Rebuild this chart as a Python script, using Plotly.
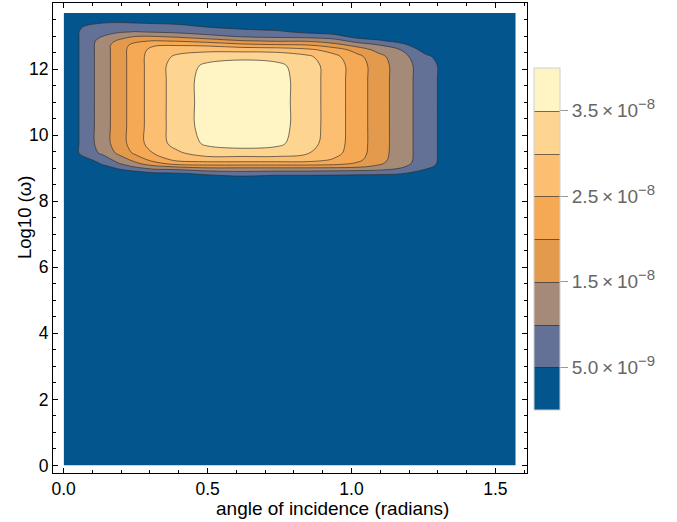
import plotly.graph_objects as go

# ---- data (z in units of 1e-9) ----
angle = [0, 0.080, 0.134, 0.191, 0.247, 0.314, 0.399, 0.50, 0.62, 0.74,
         0.847, 0.940, 1.019, 1.094, 1.170, 1.258, 1.38, 1.5708]
log_omega = [0, 8.0, 8.6, 8.84, 8.965, 9.055, 9.135, 9.255, 9.455, 9.75, 10.3,
             11.0, 11.7, 12.1, 12.38, 12.58, 12.72, 12.85, 12.98, 13.12, 13.28,
             13.45, 13.7]

# one list per angle column, values along log_omega
col00 = [0, 0, 0, 0, 0, 0, 0, 0, 0, 0, 0, 0, 0, 0, 0, 0, 0, 0, 0, 0, 0, 0, 0]
col01 = [0, 0, 0, 0, 0, 0, 1, 4, 7.5, 7.5, 7.5, 7.5, 7.5, 7.5, 7.5, 7.5, 7.5, 7.5, 7.5, 7.5, 6, 2, 0]
col02 = [0, 0, 0, 0, 2, 4, 5.5, 7, 10.8, 12.5, 12.5, 12.5, 12.5, 12.5, 12.5, 12.5, 12.5, 12, 10.1, 8, 6.5, 4.2, 0]
col03 = [0, 0, 0, 2, 4.8, 6.5, 9.6, 12, 16, 17.5, 17.5, 17.5, 17.5, 17.5, 17.5, 17.5, 17.5, 15.8, 13, 9.6, 7.5, 4.2, 0]
col04 = [0, 0, 0, 3, 6.5, 11, 13.5, 16.5, 20.8, 22.5, 22.5, 22.5, 22.5, 22.5, 22.5, 22.5, 21.5, 19, 15.2, 10.3, 7, 4, 0]
col05 = [0, 0, 0, 4, 9.8, 14, 18, 22, 25.2, 27.5, 27.5, 27.5, 27.5, 27.5, 27.5, 26.5, 24.6, 20.3, 15.4, 9.8, 7, 3.5, 0]
col06 = [0, 0, 0, 4.6, 10.5, 16.3, 22, 26.5, 29.3, 32, 32.5, 32.5, 32.5, 32.5, 31, 28.2, 24.8, 19.6, 14.2, 9, 6.5, 3, 0]
col07 = [0, 0, 0, 6, 12.5, 17.5, 22.5, 27.5, 32.5, 35.9, 37, 37, 37, 36, 33, 28.7, 24.3, 18, 12, 7.5, 4.8, 2, 0]
col08 = [0, 0, 0, 7.5, 12.5, 17.5, 22.5, 27.5, 32.5, 37.5, 39.5, 40, 39.5, 37.5, 33.5, 28.5, 22, 15.5, 9.8, 6.8, 3.5, 0, 0]
col09 = [0, 0, 0, 6.5, 12.5, 17.5, 22.5, 27.5, 32.5, 36.2, 37, 37, 37, 36.3, 33, 28.3, 21, 14.5, 9, 6, 2.5, 0, 0]
col10 = [0, 0, 0, 6.5, 12.5, 17.5, 22.5, 27.3, 30.3, 32, 32.5, 32.5, 32.5, 32.3, 31, 26.2, 20.5, 14.5, 8.5, 4, 1, 0, 0]
col11 = [0, 0, 0, 6.3, 12.2, 17.3, 21.5, 24.5, 26.5, 27.3, 27.5, 27.5, 27.5, 27.5, 26.3, 23, 17, 12.5, 7, 3, 0, 0, 0]
col12 = [0, 0, 0, 6, 11.8, 16.5, 19.3, 21.3, 22.3, 22.5, 22.5, 22.5, 22.5, 22.5, 21.5, 18, 13.5, 8, 3.5, 0, 0, 0, 0]
col13 = [0, 0, 0, 5.8, 11, 14, 15.8, 16.8, 17.3, 17.5, 17.5, 17.5, 17.5, 17.5, 16.5, 13.5, 10.3, 6, 2, 0, 0, 0, 0]
col14 = [0, 0, 0, 5.4, 9.3, 11, 12, 12.4, 12.5, 12.5, 12.5, 12.5, 12.5, 12.5, 12, 10.1, 7.5, 3, 0, 0, 0, 0, 0]
col15 = [0, 0, 0, 2, 4.9, 6.5, 7.2, 7.5, 7.5, 7.5, 7.5, 7.5, 7.5, 7.5, 6, 3, 0, 0, 0, 0, 0, 0, 0]
col16 = [0, 0, 0, 0, 0, 0, 0, 0, 0, 0, 0, 0, 0, 0, 0, 0, 0, 0, 0, 0, 0, 0, 0]
col17 = [0, 0, 0, 0, 0, 0, 0, 0, 0, 0, 0, 0, 0, 0, 0, 0, 0, 0, 0, 0, 0, 0, 0]

columns = [col00, col01, col02, col03, col04, col05, col06, col07, col08,
           col09, col10, col11, col12, col13, col14, col15, col16, col17]

band_colors = ["#03558D", "#637196", "#A68A78", "#E39A4C",
               "#F6A955", "#FCBF72", "#FDD490", "#FEF4C4"]
tick_values = [5, 15, 25, 35]
tick_mantissas = ["5.0", "1.5", "2.5", "3.5"]
tick_exponents = ["−9", "−8", "−8", "−8"]
sp = "\u2009"
tick_labels = [m + sp + "×" + sp + "10<sup><span style='font-size:15px'>" + e + "</span></sup>"
               for m, e in zip(tick_mantissas, tick_exponents)]

# stepped colour scale: one flat step per band
n = len(band_colors)
cs = []
for k, c in enumerate(band_colors):
    lo = max(0.0, (k - 0.5) / (n - 1))
    hi = min(1.0, (k + 0.5) / (n - 1))
    cs.append([lo, c])
    cs.append([hi, c])

fig = go.Figure()
fig.add_trace(go.Contour(
    x=angle, y=log_omega, z=columns, transpose=True,
    zmin=0, zmax=40,
    colorscale=cs,
    contours=dict(start=5, end=35, size=5, coloring="fill", showlines=True),
    line=dict(color="rgba(45,45,45,0.65)", width=1, smoothing=1),
    hoverinfo="skip",
    colorbar=dict(
        x=(534 - 53) / 474, xanchor="left", xpad=0, ypad=0,
        y=(473 - 239) / 470, yanchor="middle",
        lenmode="pixels", len=342, thickness=26,
        outlinewidth=1, outlinecolor="#d0d0d0",
        tickmode="array", tickvals=tick_values, ticktext=tick_labels,
        ticks="outside", ticklen=8, tickcolor="#999999", tickwidth=1,
        tickfont=dict(family="Liberation Sans, Arial, sans-serif", size=19, color="#666666"),
    ),
))

tick_font = dict(family="Liberation Sans, Arial, sans-serif", size=17.5, color="black")
title_font = dict(family="Liberation Sans, Arial, sans-serif", size=19, color="black")

fig.update_layout(
    width=677, height=522,
    margin=dict(l=53, r=150, t=3, b=49),
    paper_bgcolor="white", plot_bgcolor="white",
    showlegend=False,
    xaxis=dict(
        range=[-0.037, 1.61], showgrid=False, zeroline=False,
        showline=True, linecolor="black", linewidth=1, mirror="allticks",
        ticks="inside", ticklen=5, tickcolor="black", tickwidth=1,
        tickmode="array", tickvals=[0, 0.5, 1.0, 1.5],
        ticktext=["0.0", "0.5", "1.0", "1.5"], tickfont=tick_font,
        minor=dict(ticks="inside", ticklen=3, tickcolor="black", dtick=0.1, tick0=0, showgrid=False),
    ),
    yaxis=dict(
        range=[-0.227, 14.0], showgrid=False, zeroline=False,
        showline=True, linecolor="black", linewidth=1, mirror="allticks",
        ticks="inside", ticklen=5, tickcolor="black", tickwidth=1,
        tickmode="array", tickvals=[0, 2, 4, 6, 8, 10, 12],
        tickfont=tick_font,
        minor=dict(ticks="inside", ticklen=3, tickcolor="black", dtick=0.5, tick0=0, showgrid=False),
    ),
    annotations=[
        dict(text="angle of incidence (radians)", xref="paper", yref="paper",
             x=(332 - 53) / 474, y=(473 - 508) / 470, xanchor="center", yanchor="middle",
             showarrow=False, font=title_font),
        dict(text="Log10 (ω)", xref="paper", yref="paper",
             x=(24 - 53) / 474, y=(473 - 218) / 470, xanchor="center", yanchor="middle",
             textangle=-90, showarrow=False, font=dict(title_font, size=18.5)),
    ],
)

fig.write_html("out.html")
